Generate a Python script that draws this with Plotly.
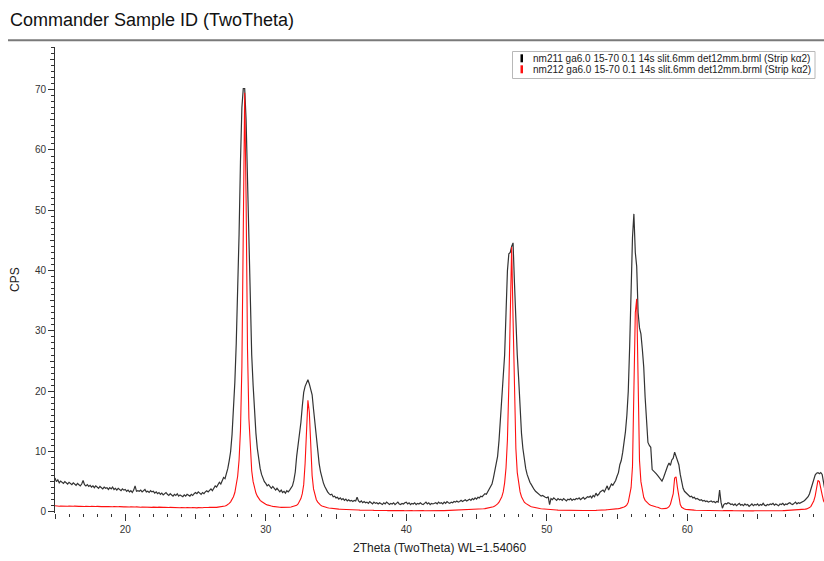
import numpy as np
import plotly.graph_objects as go

# Scan parameters (15-70 deg, 0.1 deg step)
scan_start, scan_stop, scan_step = 15.0, 70.0, 0.1
two_theta = np.round(np.arange(int(scan_start * 10), int(scan_stop * 10) + 1) / 10.0, 1)

series_names = [
    "nm211 ga6.0 15-70 0.1 14s slit.6mm det12mm.brml (Strip kα2)",
    "nm212 ga6.0 15-70 0.1 14s slit.6mm det12mm.brml (Strip kα2)",
]

# nm211 (black), one row per degree: x.0 ... x.9
cps_nm211 = [
    5.6, 5.0, 5.3, 4.8, 5.1, 4.9, 4.7, 5.0, 4.8, 4.6,   # 15
    4.9, 4.7, 4.5, 4.8, 4.6, 4.4, 4.7, 4.5, 4.3, 4.6,   # 16
    5.2, 4.5, 4.3, 4.5, 4.2, 4.4, 4.1, 4.3, 4.0, 4.3,   # 17
    4.1, 3.9, 4.2, 4.0, 3.8, 4.1, 3.9, 4.0, 3.7, 4.0,   # 18
    3.8, 4.1, 3.7, 3.9, 3.6, 3.9, 3.7, 3.5, 3.8, 3.6,   # 19
    3.7, 3.4, 3.6, 3.3, 3.5, 3.2, 3.6, 4.3, 3.4, 3.5,   # 20
    3.4, 3.6, 3.3, 3.5, 3.7, 3.3, 3.4, 3.2, 3.5, 3.3,   # 21
    3.4, 3.1, 3.3, 3.0, 3.2, 2.9, 3.1, 2.8, 3.0, 3.2,   # 22
    2.9, 2.7, 3.0, 2.8, 2.6, 2.9, 2.7, 3.0, 2.6, 2.8,   # 23
    2.7, 2.5, 2.8, 2.6, 2.9, 2.7, 2.6, 2.9, 2.7, 3.0,   # 24
    3.2, 3.0, 3.3, 3.1, 2.9, 3.2, 3.0, 3.3, 3.5, 3.3,   # 25
    3.6, 3.8, 3.5, 3.9, 4.3, 4.1, 4.5, 4.9, 4.6, 5.2,   # 26
    5.7, 5.5, 6.3, 7.2, 8.5, 10.0, 12.8, 16.5, 21.5, 28.0,   # 27
    36.0, 46.0, 58.0, 67.0, 70.2, 70.2, 65.0, 55.0, 42.0, 33.0,   # 28
    26.0, 21.0, 16.5, 13.0, 10.5, 8.6, 7.2, 6.2, 5.5, 5.0,   # 29
    4.7, 4.3, 4.5, 4.1, 3.9, 4.2, 3.8, 3.6, 3.9, 3.5,   # 30
    3.3, 3.6, 3.2, 3.4, 3.1, 3.5, 3.3, 3.6, 3.9, 4.3,   # 31
    5.2, 6.6, 9.2, 11.0, 12.8, 14.8, 17.5, 19.8, 20.8, 21.3,   # 32
    21.9, 21.2, 20.2, 19.4, 17.0, 14.5, 12.5, 10.2, 8.0, 6.6,   # 33
    5.5, 4.8, 4.2, 3.7, 3.3, 3.0, 2.8, 2.9, 2.5, 2.6,   # 34
    2.3, 2.4, 2.1, 2.3, 2.0, 2.2, 1.9, 2.1, 1.8, 2.0,   # 35
    1.8, 1.9, 1.7, 1.9, 1.8, 2.4, 1.8, 1.6, 1.8, 1.5,   # 36
    1.7, 1.5, 1.6, 1.4, 1.7, 1.5, 1.3, 1.6, 1.4, 1.5,   # 37
    1.3, 1.5, 1.4, 1.2, 1.5, 1.3, 1.6, 1.4, 1.2, 1.4,   # 38
    1.3, 1.5, 1.2, 1.4, 1.6, 1.3, 1.2, 1.4, 1.3, 1.5,   # 39
    1.6, 1.3, 1.5, 1.2, 1.4, 1.3, 1.5, 1.2, 1.4, 1.3,   # 40
    1.5, 1.3, 1.2, 1.4, 1.6, 1.3, 1.5, 1.2, 1.4, 1.3,   # 41
    1.4, 1.5, 1.3, 1.6, 1.4, 1.5, 1.3, 1.6, 1.4, 1.7,   # 42
    1.5, 1.4, 1.6, 1.5, 1.7, 1.6, 1.8, 1.6, 1.7, 1.9,   # 43
    1.7, 1.8, 2.0, 1.8, 1.9, 2.1, 1.9, 2.2, 2.0, 2.3,   # 44
    2.1, 2.4, 2.3, 2.6, 2.5, 2.8, 3.0, 2.9, 3.3, 3.6,   # 45
    4.0, 4.6, 5.6, 6.9, 7.6, 9.2, 11.8, 15.0, 18.6, 21.5,   # 46
    26.0, 33.0, 40.0, 42.8, 43.0, 44.0, 44.6, 38.0, 31.0, 26.0,   # 47
    22.0, 17.0, 13.0, 10.5, 8.5, 7.2, 6.2, 5.5, 4.9, 4.5,   # 48
    4.0, 3.7, 3.4, 3.2, 2.9, 2.8, 2.6, 2.7, 2.5, 2.4,   # 49
    2.3, 2.5, 1.2, 2.2, 2.0, 2.3, 2.1, 1.9, 2.2, 2.0,   # 50
    2.1, 1.9, 2.2, 2.0, 1.8, 2.1, 2.0, 2.2, 1.9, 2.1,   # 51
    2.0, 2.2, 2.1, 2.3, 2.0, 2.2, 2.4, 2.1, 2.3, 2.5,   # 52
    2.4, 2.6, 2.3, 2.7, 2.5, 3.1, 2.7, 2.9, 3.3, 3.4,   # 53
    3.6, 3.3, 3.8, 4.3, 3.6, 4.0, 4.6, 4.4, 4.8, 5.2,   # 54
    5.9, 6.5, 7.8, 8.5, 9.8, 11.5, 13.3, 16.0, 20.0, 27.5,   # 55
    37.0, 45.5, 49.4, 43.0, 40.7, 33.0, 30.5, 29.5, 27.0, 24.0,   # 56
    19.0, 14.5, 11.5, 11.0, 10.7, 7.0, 6.8, 6.5, 6.3, 6.0,   # 57
    5.7, 5.4, 5.1, 5.6, 6.4, 7.1, 7.6, 8.1, 7.7, 8.6,   # 58
    8.9, 9.9, 9.3, 8.6, 7.8, 6.2, 4.8, 3.9, 3.4, 3.2,   # 59
    3.0, 2.8, 2.5, 2.6, 2.3, 2.4, 2.1, 2.2, 2.0, 1.9,   # 60
    2.0, 1.8, 1.9, 1.7, 1.8, 1.6, 1.7, 1.8, 1.6, 1.7,   # 61
    1.5, 1.7, 1.6, 3.6, 1.6, 0.6, 1.2, 1.4, 1.3, 1.5,   # 62
    1.4, 1.2, 1.3, 1.1, 1.3, 1.0, 1.2, 1.4, 1.1, 1.2,   # 63
    1.0, 1.3, 1.1, 1.2, 0.9, 1.1, 1.3, 1.0, 1.2, 1.1,   # 64
    1.3, 1.0, 1.2, 1.1, 1.4, 1.1, 1.0, 1.2, 1.1, 1.3,   # 65
    1.2, 1.4, 1.1, 1.3, 1.2, 1.0, 1.3, 1.2, 1.4, 1.1,   # 66
    1.3, 1.2, 1.4, 1.5, 1.3, 1.2, 1.4, 1.6, 1.3, 1.5,   # 67
    1.4, 1.5, 1.6, 1.8, 2.0, 2.2, 2.5, 3.0, 3.7, 4.5,   # 68
    5.2, 6.1, 6.4, 6.5, 6.3, 6.5, 6.2, 4.6, 3.5, 3.2,   # 69
    3.0,                                                # 70
]

# nm212 (red)
cps_nm212 = [
    1.00, 0.95, 0.98, 0.92, 0.96, 0.93, 0.97, 0.91, 0.94, 0.92,   # 15
    0.95, 0.90, 0.93, 0.91, 0.94, 0.89, 0.92, 0.90, 0.93, 0.88,   # 16
    0.91, 0.89, 0.92, 0.87, 0.90, 0.88, 0.91, 0.86, 0.89, 0.87,   # 17
    0.90, 0.85, 0.88, 0.86, 0.89, 0.84, 0.87, 0.85, 0.88, 0.83,   # 18
    0.86, 0.84, 0.87, 0.82, 0.85, 0.83, 0.86, 0.81, 0.84, 0.82,   # 19
    0.84, 0.80, 0.83, 0.79, 0.82, 0.78, 0.81, 0.79, 0.82, 0.77,   # 20
    0.80, 0.76, 0.79, 0.77, 0.80, 0.75, 0.78, 0.76, 0.79, 0.74,   # 21
    0.77, 0.73, 0.76, 0.74, 0.77, 0.72, 0.75, 0.73, 0.76, 0.71,   # 22
    0.74, 0.70, 0.73, 0.71, 0.74, 0.69, 0.72, 0.70, 0.73, 0.68,   # 23
    0.71, 0.67, 0.70, 0.68, 0.71, 0.66, 0.69, 0.67, 0.70, 0.66,   # 24
    0.68, 0.65, 0.69, 0.66, 0.70, 0.67, 0.71, 0.68, 0.72, 0.70,   # 25
    0.73, 0.71, 0.74, 0.72, 0.76, 0.74, 0.78, 0.80, 0.83, 0.86,   # 26
    0.90, 0.95, 1.05, 1.20, 1.40, 1.65, 2.00, 2.50, 3.20, 4.30,   # 27
    5.9, 8.6, 13.5, 24.0, 48.0, 69.5, 52.0, 27.0, 15.5, 9.8,      # 28
    6.8, 5.0, 3.9, 3.1, 2.6, 2.2, 1.9, 1.7, 1.5, 1.35,            # 29
    1.25, 1.15, 1.05, 1.00, 0.95, 0.90, 0.85, 0.82, 0.80, 0.78,   # 30
    0.76, 0.74, 0.73, 0.72, 0.72, 0.73, 0.74, 0.76, 0.80, 0.85,   # 31
    0.90, 1.00, 1.10, 1.30, 1.70, 2.20, 3.00, 4.50, 8.00, 13.5,   # 32
    18.5, 16.5, 10.5, 6.0, 3.8, 2.7, 2.0, 1.6, 1.3, 1.1,          # 33
    0.95, 0.85, 0.78, 0.72, 0.66, 0.62, 0.58, 0.55, 0.52, 0.50,   # 34
    0.48, 0.46, 0.44, 0.43, 0.41, 0.40, 0.38, 0.37, 0.36, 0.35,   # 35
    0.34, 0.33, 0.32, 0.31, 0.30, 0.31, 0.29, 0.28, 0.29, 0.27,   # 36
    0.28, 0.26, 0.27, 0.25, 0.26, 0.24, 0.25, 0.23, 0.24, 0.22,   # 37
    0.23, 0.21, 0.22, 0.20, 0.22, 0.19, 0.21, 0.20, 0.22, 0.19,   # 38
    0.21, 0.18, 0.20, 0.19, 0.21, 0.18, 0.20, 0.17, 0.19, 0.18,   # 39
    0.20, 0.17, 0.19, 0.18, 0.20, 0.17, 0.19, 0.18, 0.20, 0.17,   # 40
    0.19, 0.17, 0.20, 0.18, 0.19, 0.17, 0.20, 0.18, 0.19, 0.17,   # 41
    0.20, 0.18, 0.19, 0.17, 0.20, 0.18, 0.21, 0.19, 0.20, 0.18,   # 42
    0.21, 0.19, 0.22, 0.20, 0.23, 0.21, 0.24, 0.22, 0.25, 0.24,   # 43
    0.26, 0.25, 0.28, 0.27, 0.30, 0.29, 0.32, 0.33, 0.35, 0.37,   # 44
    0.39, 0.41, 0.43, 0.45, 0.48, 0.50, 0.53, 0.56, 0.60, 0.64,   # 45
    0.68, 0.74, 0.82, 0.95, 1.10, 1.30, 1.60, 2.00, 2.50, 3.30,   # 46
    4.8, 7.3, 12.0, 21.0, 36.0, 43.9, 32.0, 18.0, 10.5, 6.5,      # 47
    4.5, 3.3, 2.5, 2.0, 1.6, 1.4, 1.2, 1.05, 0.95, 0.85,          # 48
    0.78, 0.72, 0.66, 0.62, 0.58, 0.54, 0.50, 0.47, 0.44, 0.42,   # 49
    0.40, 0.38, 0.36, 0.34, 0.33, 0.31, 0.30, 0.29, 0.28, 0.27,   # 50
    0.26, 0.25, 0.24, 0.25, 0.23, 0.24, 0.22, 0.23, 0.21, 0.22,   # 51
    0.21, 0.22, 0.20, 0.21, 0.22, 0.20, 0.21, 0.22, 0.21, 0.22,   # 52
    0.23, 0.22, 0.24, 0.23, 0.25, 0.24, 0.26, 0.25, 0.27, 0.28,   # 53
    0.29, 0.30, 0.31, 0.33, 0.34, 0.36, 0.38, 0.40, 0.43, 0.46,   # 54
    0.49, 0.53, 0.57, 0.62, 0.68, 0.78, 0.92, 1.15, 1.60, 2.60,   # 55
    4.0, 7.5, 18.5, 33.0, 35.3, 18.6, 8.5, 5.0, 3.3, 2.4,         # 56
    1.9, 1.6, 1.4, 1.2, 1.1, 1.0, 0.9, 0.85, 0.8, 0.75,           # 57
    0.62, 0.56, 0.50, 0.48, 0.50, 0.56, 0.66, 0.85, 1.25, 2.1,    # 58
    3.0, 5.6, 5.8, 4.0, 2.2, 1.2, 0.75, 0.55, 0.45, 0.40,         # 59
    0.36, 0.33, 0.31, 0.29, 0.28, 0.27, 0.26, 0.25, 0.24, 0.23,   # 60
    0.22, 0.21, 0.22, 0.20, 0.21, 0.19, 0.20, 0.21, 0.19, 0.20,   # 61
    0.19, 0.20, 0.18, 0.19, 0.20, 0.18, 0.19, 0.17, 0.18, 0.19,   # 62
    0.18, 0.17, 0.19, 0.18, 0.17, 0.18, 0.16, 0.18, 0.17, 0.18,   # 63
    0.17, 0.16, 0.18, 0.17, 0.16, 0.18, 0.17, 0.16, 0.17, 0.18,   # 64
    0.16, 0.17, 0.18, 0.16, 0.17, 0.18, 0.17, 0.16, 0.18, 0.17,   # 65
    0.18, 0.17, 0.19, 0.18, 0.17, 0.19, 0.18, 0.20, 0.19, 0.20,   # 66
    0.21, 0.20, 0.22, 0.23, 0.22, 0.24, 0.25, 0.26, 0.28, 0.30,   # 67
    0.32, 0.34, 0.37, 0.40, 0.44, 0.48, 0.55, 0.70, 0.90, 1.30,   # 68
    1.8, 2.6, 4.0, 5.2, 5.0, 3.6, 2.8, 1.8, 1.3, 1.0,             # 69
    0.8,                                                          # 70
]

x_major_ticks = [20, 30, 40, 50, 60]
x_mid_ticks = [15, 25, 35, 45, 55, 65]
y_major_ticks = [0, 10, 20, 30, 40, 50, 60, 70]
y_mid_ticks = [5, 15, 25, 35, 45, 55, 65, 75]

title_text = "Commander Sample ID (TwoTheta)"
x_title = "2Theta (TwoTheta) WL=1.54060"
y_title = "CPS"
series_colors = ["#333333", "#ff1010"]
legend_swatch_colors = ["#000000", "#ff1010"]

# ---------------- layout geometry ----------------
W_FIG, H_FIG = 824, 561
M_L, M_R, M_T, M_B = 55, 0, 47, 48
PW = W_FIG - M_L - M_R
PH = H_FIG - M_T - M_B
X_RANGE = [15.0, 69.73]
Y_RANGE = [-0.2, 77.08]
FONT = "Arial, 'Liberation Sans', sans-serif"


def px_x(px):
    return (px - M_L) / PW


def px_y(py):
    return (H_FIG - M_B - py) / PH


fig = go.Figure()
for name, vals, col, w in zip(series_names, [cps_nm211, cps_nm212], series_colors, [1.2, 1.1]):
    fig.add_trace(go.Scatter(x=two_theta, y=vals, mode="lines", name=name,
                             line=dict(color=col, width=w), showlegend=False))

axis_common = dict(showgrid=False, zeroline=False, ticks="outside", tickcolor="#333",
                   tickfont=dict(family=FONT, size=10, color="#333"))

fig.update_layout(
    width=W_FIG, height=H_FIG,
    margin=dict(l=M_L, r=M_R, t=M_T, b=M_B),
    paper_bgcolor="white", plot_bgcolor="white",
    title=dict(text=title_text, x=10 / W_FIG, xanchor="left", xref="container",
               y=1 - 20 / H_FIG, yanchor="middle", yref="container",
               font=dict(family=FONT, size=18, color="#111")),
    xaxis=dict(range=X_RANGE, tickvals=x_major_ticks, ticklen=7, showline=False,
               minor=dict(dtick=1, ticklen=3, ticks="outside", tickcolor="#333", showgrid=False),
               **axis_common),
    xaxis2=dict(range=X_RANGE, overlaying="x", side="bottom", tickvals=x_mid_ticks,
                ticklen=5, showticklabels=False, showgrid=False, zeroline=False,
                ticks="outside", tickcolor="#333", showline=False),
    yaxis=dict(range=Y_RANGE, tickvals=y_major_ticks, ticklen=6, showline=True,
               linecolor="#333", linewidth=1,
               minor=dict(dtick=1, ticklen=3, ticks="outside", tickcolor="#333", showgrid=False),
               **axis_common),
    yaxis2=dict(range=Y_RANGE, overlaying="y", side="left", tickvals=y_mid_ticks,
                ticklen=4.5, showticklabels=False, showgrid=False, zeroline=False,
                ticks="outside", tickcolor="#333", showline=False),
    showlegend=False,
)

annotations = [
    dict(text=x_title, x=0.5, y=px_y(548), xref="paper", yref="paper", showarrow=False,
         xanchor="center", yanchor="middle", font=dict(family=FONT, size=12, color="#222")),
    dict(text=y_title, x=px_x(15), y=0.5, xref="paper", yref="paper", showarrow=False,
         textangle=-90, xanchor="center", yanchor="middle",
         font=dict(family=FONT, size=12, color="#222")),
]
shapes = [
    dict(type="line", xref="paper", yref="paper", x0=px_x(8), x1=px_x(824),
         y0=px_y(40.3), y1=px_y(40.3), line=dict(color="#7a7a7a", width=2)),
    dict(type="rect", xref="paper", yref="paper", x0=px_x(512.5), x1=px_x(815),
         y0=px_y(78.5), y1=px_y(51.5), line=dict(color="#b8b8b8", width=1),
         fillcolor="white"),
]
legend_rows_y = [58.3, 69.3]
for name, col, ry in zip(series_names, legend_swatch_colors, legend_rows_y):
    shapes.append(dict(type="rect", xref="paper", yref="paper",
                       x0=px_x(520.5), x1=px_x(523), y0=px_y(ry + 4), y1=px_y(ry - 4),
                       line=dict(width=0), fillcolor=col))
    annotations.append(dict(text=name, x=px_x(531), y=px_y(ry), xref="paper", yref="paper",
                            showarrow=False, xanchor="left", yanchor="middle",
                            font=dict(family=FONT, size=10, color="#222")))
fig.update_layout(annotations=annotations, shapes=shapes)

# anchor the overlay axes with an empty, invisible trace so they are drawn
fig.add_trace(go.Scatter(x=[], y=[], xaxis="x2", yaxis="y2", showlegend=False, hoverinfo="skip"))

fig.write_html("out.html", config={"displayModeBar": False})

# remove the browser's default page margin so the figure sits at (0, 0)
with open("out.html", "r", encoding="utf-8") as fh:
    html = fh.read()
html = html.replace("<head>", "<head><style>html,body{margin:0;padding:0;overflow:hidden;}</style>", 1)
with open("out.html", "w", encoding="utf-8") as fh:
    fh.write(html)
